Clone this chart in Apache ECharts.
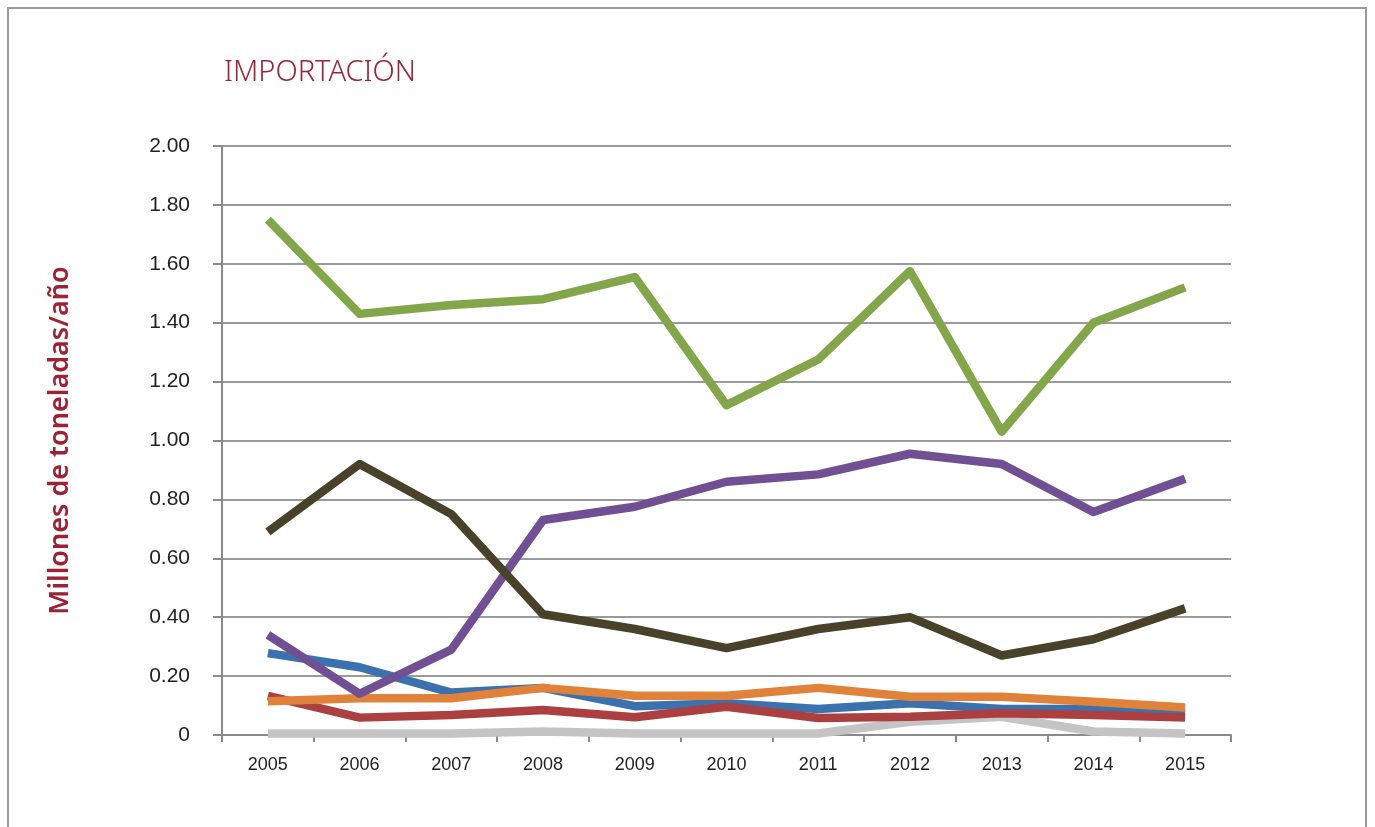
<!DOCTYPE html>
<html>
<head>
<meta charset="utf-8">
<title>Importación</title>
<script src="https://cdn.jsdelivr.net/npm/echarts@6/dist/echarts.min.js"></script>
<style>
  html, body { margin: 0; padding: 0; background: #fff; }
  #chart { width: 1375px; height: 827px; }
</style>
</head>
<body>
<div id="chart"></div>
<script>
// años
const years = ['2005', '2006', '2007', '2008', '2009', '2010', '2011', '2012', '2013', '2014', '2015']

// valores (millones de toneladas/año)
const green = [1.75, 1.43, 1.46, 1.48, 1.555, 1.12, 1.275, 1.575, 1.03, 1.40, 1.52]
const olive = [0.69, 0.92, 0.75, 0.41, 0.36, 0.295, 0.36, 0.40, 0.27, 0.325, 0.43]
const purple = [0.34, 0.14, 0.29, 0.73, 0.775, 0.86, 0.885, 0.955, 0.92, 0.757, 0.87]
const blue = [0.278, 0.23, 0.144, 0.16, 0.098, 0.108, 0.088, 0.108, 0.088, 0.088, 0.076]
const orange = [0.115, 0.125, 0.125, 0.16, 0.133, 0.133, 0.16, 0.13, 0.13, 0.113, 0.093]
const red = [0.133, 0.059, 0.068, 0.085, 0.06, 0.096, 0.058, 0.062, 0.074, 0.068, 0.059]
const gray = [0.005, 0.005, 0.005, 0.012, 0.005, 0.005, 0.005, 0.045, 0.062, 0.012, 0.005]

const chart = echarts.init(document.getElementById('chart'))

function line(name, data, color) {
  return {
    name: name,
    type: 'line',
    data: data,
    symbol: 'none',
    animation: false,
    lineStyle: { width: 8.5, color: color, cap: 'butt', join: 'round' },
    itemStyle: { color: color }
  }
}

chart.setOption({
  backgroundColor: '#fff',
  title: {
    text: 'IMPORTACIÓN',
    left: 219,
    top: 53,
    textStyle: {
      color: '#9b2335',
      fontSize: 29,
      fontWeight: 300,
      fontFamily: '"Noto Sans", "Open Sans", sans-serif'
    }
  },
  graphic: [{
    type: 'rect',
    shape: { x: 8, y: 8, width: 1358, height: 900 },
    style: { fill: 'none', stroke: '#9a9a9a', lineWidth: 2 },
    silent: true
  }],
  grid: { left: 222, right: 144, top: 146, bottom: 92 },
  xAxis: {
    type: 'category',
    data: years,
    boundaryGap: true,
    axisLine: { lineStyle: { color: '#8a8a8a', width: 2 } },
    axisTick: { show: true, length: 7, lineStyle: { color: '#8a8a8a', width: 2 } },
    axisLabel: {
      color: '#222',
      fontSize: 18,
      margin: 21,
      fontFamily: 'Liberation Sans, Arial, sans-serif'
    }
  },
  yAxis: {
    type: 'value',
    min: 0,
    max: 2,
    interval: 0.2,
    name: 'Millones de toneladas/año',
    nameLocation: 'middle',
    nameGap: 148,
    nameTextStyle: {
      color: '#9b2335',
      fontSize: 27,
      fontWeight: 600,
      fontFamily: '"Noto Sans", sans-serif'
    },
    axisLine: { show: true, lineStyle: { color: '#8a8a8a', width: 2 } },
    axisTick: { show: true, length: 9, lineStyle: { color: '#8a8a8a', width: 2 } },
    axisLabel: {
      color: '#222',
      fontSize: 21,
      margin: 32,
      fontFamily: 'Liberation Sans, Arial, sans-serif',
      formatter: function (v) { return v === 0 ? '0' : v.toFixed(2) }
    },
    splitLine: { show: true, lineStyle: { color: '#9a9a9a', width: 2 } }
  },
  series: [
    line('Gris', gray, '#c4c4c4'),
    line('Azul', blue, '#3b72ad'),
    line('Rojo', red, '#ac3f3f'),
    line('Naranja', orange, '#e0823a'),
    line('Morado', purple, '#704f93'),
    line('Oliva', olive, '#474229'),
    line('Verde', green, '#84a64a')
  ]
})
</script>
</body>
</html>
